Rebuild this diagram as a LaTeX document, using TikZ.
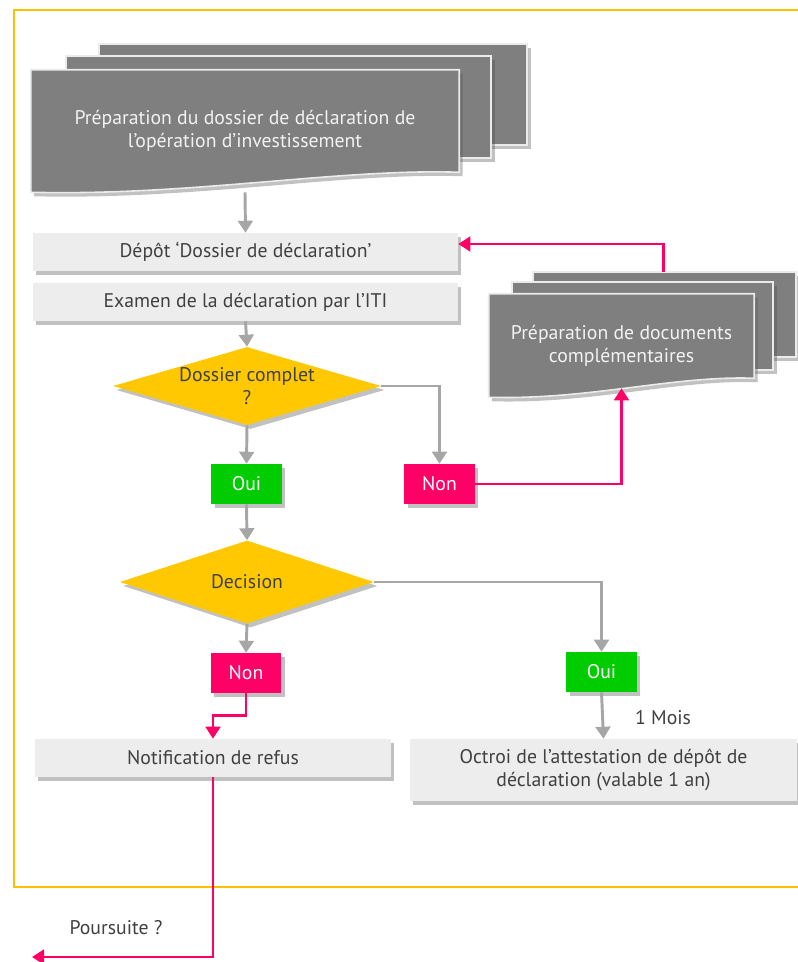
\documentclass[tikz,border=0pt]{standalone}
\usepackage{fontspec}
\setmainfont{PT Sans}
\usetikzlibrary{shapes.geometric,arrows.meta,positioning,calc,backgrounds,shadows}
\definecolor{docgray}{HTML}{7F7F7F}
\definecolor{boxgray}{HTML}{EDEDED}
\definecolor{txtgray}{HTML}{404040}
\definecolor{linegray}{HTML}{A6A6A6}
\definecolor{gold}{HTML}{FFC800}
\definecolor{framegold}{HTML}{FFC000}
\definecolor{okgreen}{HTML}{00CC00}
\definecolor{nopink}{HTML}{FF0066}
\tikzset{
    softshadow/.style = {drop shadow={shadow xshift=2.5pt, shadow yshift=-3pt, opacity=0.35, fill=black!70}},
    txt/.style        = {font=\fontsize{14.8}{17.25}\selectfont, text=txtgray, align=center},
    page/.style       = {fill=docgray, draw=white!92!black, line width=1.2pt, softshadow},
    doctext/.style    = {txt, text=white!95!black, rectangle, inner sep=0pt},
    stepbox/.style    = {txt, rectangle, fill=boxgray, softshadow, inner sep=0pt},
    choice/.style     = {txt, diamond, fill=gold, aspect=3.4, inner sep=0pt, softshadow},
    oui/.style        = {txt, text=white, rectangle, fill=okgreen, minimum width=53pt, minimum height=30pt, softshadow},
    non/.style        = {oui, fill=nopink},
    flow/.style       = {-{Triangle[width=11pt,length=9pt]}, line width=2.2pt, draw=linegray},
    back/.style       = {flow, draw=nopink, line width=1.9pt}
}
\begin{document}
\begin{tikzpicture}[x=0.75pt, y=-0.75pt]
    \useasboundingbox (0,0) rectangle (798,962);

    % Frame
    \draw[framegold, line width=1.9pt] (14,10) rectangle (808,887);

    % Documents
    \node[doctext, minimum width=321pt, minimum height=91.5pt] (docA) at (245,131)
        {Préparation du dossier de déclaration de\\l’opération d’investissement};
    \node[doctext, minimum width=198.75pt, minimum height=77.25pt] (docB) at (621.5,345.5)
        {Préparation de documents\\complémentaires};
    \coordinate (docBtop) at ($(docB.north west)+(175,-22)$);

    \begin{scope}[on background layer]
        \draw[page] ($(docA.north west)+(68,-26)$) rectangle ($(docA.north east)+(68,75)$);
        \draw[page] ($(docA.north west)+(35,-14)$) rectangle ($(docA.north east)+(32,88)$);
        \draw[page] (docA.north west) -- (docA.north east) -- ($(docA.south east)+(0,-20)$)
            .. controls +(-120,-4) and +(160,4) .. (docA.south west) -- cycle;
        \draw[page] ($(docB.north west)+(44,-22)$) rectangle ($(docB.north east)+(42,63)$);
        \draw[page] ($(docB.north west)+(23,-12)$) rectangle ($(docB.north east)+(19,76)$);
        \draw[page] (docB.north west) -- (docB.north east) -- ($(docB.south east)+(0,-19)$)
            .. controls +(-80,-3) and +(100,3) .. (docB.south west) -- cycle;
    \end{scope}

    % Steps
    \node[stepbox, minimum width=318.75pt, minimum height=28.5pt] (depot) at (245.5,252) {Dépôt ‘Dossier de déclaration’};
    \node[stepbox, minimum width=318.75pt, minimum height=28.5pt] (examen) at (245.5,302) {Examen de la déclaration par l’ITI};
    \node[choice, minimum width=201pt, minimum height=58.5pt] (complet) at (247,386) {Dossier complet\\?};
    \node[oui] (oui1) at (246.5,484) {Oui};
    \node[non] (non1) at (439.5,484) {Non};
    \node[choice, minimum width=190.5pt, minimum height=62.25pt] (decision) at (247,582) {Decision};
    \node[non] (non2) at (246,673) {Non};
    \node[oui] (oui2) at (601.5,672) {Oui};
    \node[stepbox, minimum width=267pt, minimum height=28.5pt] (refus) at (213,758) {Notification de refus};
    \node[stepbox, minimum width=290.25pt, minimum height=46.5pt] (octroi) at (603.5,770)
        {Octroi de l’attestation de dépôt de\\déclaration (valable 1 an)};
    \node[txt] (poursuite) at (116,928) {Poursuite ?};
    \coordinate (exit) at (32,957);

    % Connectors
    \draw[flow] (docA.south) -- (depot.north);
    \draw[flow] (examen.south) -- (complet.north);
    \draw[flow] (complet.south) -- (oui1.north);
    \draw[flow] (complet.east) -| (non1.north);
    \draw[back] (non1.east) -| ($(docB.south)+(0,-9)$);
    \draw[back] (docBtop) |- ($(depot.east)+(0,-8)$);
    \draw[flow] (oui1.south) -- (decision.north);
    \draw[flow] (decision.south) -- (non2.north);
    \draw[flow] (decision.east) -| (oui2.north);
    \draw[flow] (oui2.south) -- node[txt, pos=0.55, right=20pt] {1 Mois} (octroi.north);
    \draw[back] (non2.south) -- ++(0,22) -| (refus.north);
    \draw[back] (refus.south) |- (exit);

\end{tikzpicture}
\end{document}
